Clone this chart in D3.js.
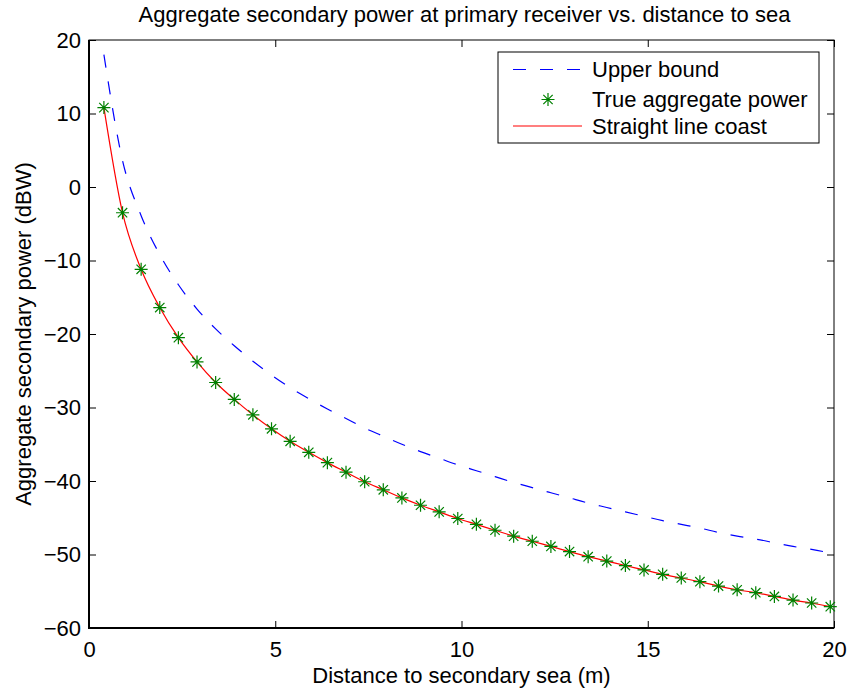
<!DOCTYPE html>
<html>
<head>
<meta charset="utf-8">
<script src="https://cdn.jsdelivr.net/npm/d3@7"></script>
<style>
body { margin: 0; background: #fff; }
text { font-family: "Liberation Sans", Arial, Helvetica, sans-serif; fill: #000; }
</style>
</head>
<body>
<svg id="chart" width="850" height="694"></svg>
<script>
// distance to sea (m), sampled where the markers sit
var distance = [0.4, 0.9, 1.4, 1.9, 2.4, 2.9, 3.4, 3.9, 4.4, 4.9,
                5.4, 5.9, 6.4, 6.9, 7.4, 7.9, 8.4, 8.9, 9.4, 9.9,
                10.4, 10.9, 11.4, 11.9, 12.4, 12.9, 13.4, 13.9, 14.4, 14.9,
                15.4, 15.9, 16.4, 16.9, 17.4, 17.9, 18.4, 18.9, 19.4, 19.9];

var upperBound = [18.0, 3.6, -3.9, -9.2, -13.3, -16.6, -19.3, -21.6, -23.7, -25.6,
                  -27.3, -28.8, -30.2, -31.5, -32.8, -33.9, -35.0, -36.0, -36.9, -37.8,
                  -38.6, -39.4, -40.2, -40.9, -41.6, -42.3, -43.0, -43.6, -44.2, -44.8,
                  -45.4, -45.9, -46.4, -47.0, -47.5, -47.9, -48.4, -48.9, -49.3, -49.8];

var trueAggregate = [10.8, -3.5, -11.2, -16.4, -20.5, -23.8, -26.6, -28.9, -31.0, -32.9,
                     -34.6, -36.1, -37.5, -38.8, -40.1, -41.2, -42.3, -43.3, -44.2, -45.1,
                     -45.9, -46.7, -47.5, -48.2, -48.9, -49.6, -50.3, -50.9, -51.5, -52.1,
                     -52.7, -53.2, -53.7, -54.3, -54.8, -55.2, -55.7, -56.2, -56.6, -57.1];

var straightLine = [10.8, -3.5, -11.2, -16.4, -20.5, -23.8, -26.6, -28.9, -31.0, -32.9,
                    -34.6, -36.1, -37.5, -38.8, -40.1, -41.2, -42.3, -43.3, -44.2, -45.1,
                    -45.9, -46.7, -47.5, -48.2, -48.9, -49.6, -50.3, -50.9, -51.5, -52.1,
                    -52.7, -53.2, -53.7, -54.3, -54.8, -55.2, -55.7, -56.2, -56.6, -57.1];

var xTicks = [0, 5, 10, 15, 20];
var yTicks = [-60, -50, -40, -30, -20, -10, 0, 10, 20];
var legendNames = ['Upper bound', 'True aggregate power', 'Straight line coast'];

// plot box (window.top is read-only, so no bare "top" here)
var plotL = 89, plotR = 834, plotT = 40, plotB = 628;
var svg = d3.select('#chart');

var x = d3.scaleLinear().domain([0, 20]).range([plotL, plotR]);
var y = d3.scaleLinear().domain([-60, 20]).range([plotB, plotT]);

// ticks, all pointing inward like matlab
svg.append('g')
    .attr('transform', 'translate(0,' + plotB + ')')
    .call(d3.axisBottom(x).tickValues(xTicks).tickSize(-7).tickPadding(13));
svg.append('g')
    .attr('transform', 'translate(0,' + plotT + ')')
    .call(d3.axisTop(x).tickValues(xTicks).tickSize(-7).tickFormat(''));
svg.append('g')
    .attr('transform', 'translate(' + plotL + ',0)')
    .call(d3.axisLeft(y).tickValues(yTicks).tickSize(-7).tickPadding(8));
svg.append('g')
    .attr('transform', 'translate(' + plotR + ',0)')
    .call(d3.axisRight(y).tickValues(yTicks).tickSize(-7).tickFormat(''));

svg.selectAll('.domain').remove();
svg.selectAll('.tick line').attr('stroke', '#000').attr('stroke-width', 1);
svg.selectAll('.tick text')
    .style('font-size', '22px')
    .attr('fill', '#000');

// box
svg.append('rect')
    .attr('x', plotL).attr('y', plotT)
    .attr('width', plotR - plotL).attr('height', plotB - plotT)
    .attr('fill', 'none').attr('stroke', '#000').attr('stroke-width', 1);
svg.append('path')
    .attr('d', 'M' + plotL + ',' + plotT + 'V' + plotB + 'H' + plotR)
    .attr('fill', 'none').attr('stroke', '#000').attr('stroke-width', 2);

var line = function(vals) {
  return d3.line()
      .x(function(d, i) { return x(distance[i]); })
      .y(function(d) { return y(d); })
      .curve(d3.curveMonotoneX)(vals);
};

svg.append('path')
    .attr('d', line(upperBound))
    .attr('fill', 'none').attr('stroke', '#0000ff').attr('stroke-width', 1.2)
    .attr('stroke-dasharray', '13 14');

svg.append('path')
    .attr('d', line(straightLine))
    .attr('fill', 'none').attr('stroke', '#ff0000').attr('stroke-width', 1.2);

var r = 6.5, dg = r * 0.72;
var starPath = 'M' + (-r) + ',0H' + r + 'M0,' + (-r) + 'V' + r +
    'M' + (-dg) + ',' + (-dg) + 'L' + dg + ',' + dg +
    'M' + (-dg) + ',' + dg + 'L' + dg + ',' + (-dg);

svg.append('g').selectAll('path')
    .data(trueAggregate)
  .enter().append('path')
    .attr('transform', function(d, i) { return 'translate(' + x(distance[i]) + ',' + y(d) + ')'; })
    .attr('d', starPath)
    .attr('fill', 'none').attr('stroke', '#008000').attr('stroke-width', 1.2);

// legend
var lg = svg.append('g');
lg.append('rect')
    .attr('x', 498).attr('y', 52)
    .attr('width', 321).attr('height', 91)
    .attr('fill', '#fff').attr('stroke', '#000').attr('stroke-width', 1);

var rowY = [69.5, 99.5, 126];
lg.append('line')
    .attr('x1', 513).attr('x2', 582).attr('y1', rowY[0]).attr('y2', rowY[0])
    .attr('stroke', '#0000ff').attr('stroke-width', 1.2).attr('stroke-dasharray', '13 14');
lg.append('path')
    .attr('transform', 'translate(548,' + rowY[1] + ')')
    .attr('d', starPath)
    .attr('fill', 'none').attr('stroke', '#008000').attr('stroke-width', 1.2);
lg.append('line')
    .attr('x1', 513).attr('x2', 582).attr('y1', rowY[2]).attr('y2', rowY[2])
    .attr('stroke', '#ff0000').attr('stroke-width', 1.2);

lg.selectAll('text.leg')
    .data(legendNames)
  .enter().append('text')
    .attr('class', 'leg')
    .attr('x', 592)
    .attr('y', function(d, i) { return rowY[i]; })
    .attr('dy', '0.35em')
    .style('font-size', '22px')
    .text(function(d) { return d; });

// titles
svg.append('text')
    .attr('x', (plotL + plotR) / 2 + 3).attr('y', 22)
    .attr('text-anchor', 'middle')
    .style('font-size', '22px')
    .text('Aggregate secondary power at primary receiver vs. distance to sea');

svg.append('text')
    .attr('x', (plotL + plotR) / 2).attr('y', 683)
    .attr('text-anchor', 'middle')
    .style('font-size', '22px')
    .text('Distance to secondary sea (m)');

svg.append('text')
    .attr('transform', 'translate(31,' + (plotT + plotB) / 2 + ') rotate(-90)')
    .attr('text-anchor', 'middle')
    .style('font-size', '22px')
    .text('Aggregate secondary power (dBW)');
</script>
</body>
</html>
